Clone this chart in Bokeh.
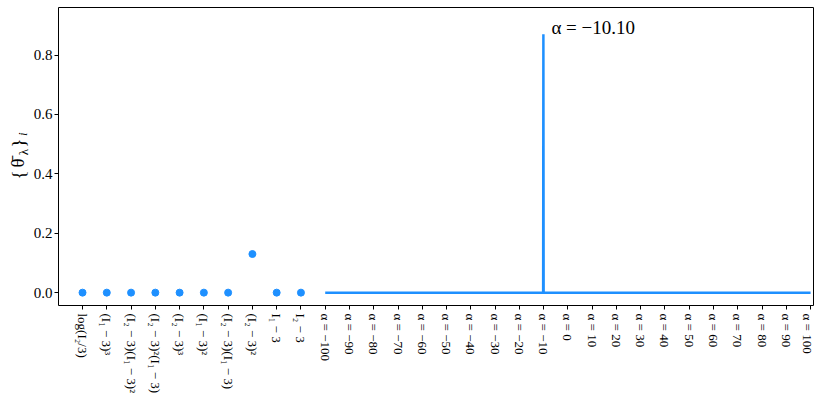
import math
from bokeh.plotting import figure
from bokeh.layouts import row
from bokeh.models import FixedTicker, PrintfTickFormatter, Range1d, Label
from bokeh.core.properties import value
from bokeh.embed import file_html
from bokeh.resources import INLINE

feature_labels = ["log(I₂/3)", "(I₁ − 3)³", "(I₂ − 3)(I₁ − 3)²", "(I₂ − 3)²(I₁ − 3)",
                  "(I₂ − 3)³", "(I₁ − 3)²", "(I₂ − 3)(I₁ − 3)", "(I₂ − 3)²",
                  "I₁ − 3", "I₂ − 3"]
feature_values = [0.0, 0.0, 0.0, 0.0, 0.0, 0.0, 0.0, 0.13, 0.0, 0.0]
alpha_ticks = [-100, -90, -80, -70, -60, -50, -40, -30, -20, -10, 0,
               10, 20, 30, 40, 50, 60, 70, 80, 90, 100]
alpha_values = [-100.0, -10.2, -10.1, -10.0, 100.0]
theta_values = [0.0, 0.0, 0.87, 0.0, 0.0]
peak_alpha = -10.10
peak_theta = 0.87
y_ticks = [0.0, 0.2, 0.4, 0.6, 0.8]

color = "#1E90FF"
serif = "Liberation Serif"

n_feat = len(feature_labels)
a0 = alpha_ticks[0]
step = alpha_ticks[1] - alpha_ticks[0]

def apos(a):
    return n_feat + (a - a0) / step

TOP, BOTTOM, H = 7, 88, 396
FRAME_H = H - TOP - BOTTOM
LEFT_W = 30

xr = Range1d(-0.99, 30.12)
yr = Range1d(-0.0433, 0.96)

# --- narrow left panel holding the composite y-axis label {θ̄_λ}_i ---
lf = figure(width=LEFT_W, height=H, output_backend="svg", toolbar_location=None,
            x_axis_type=None, y_axis_type=None, x_range=Range1d(0, LEFT_W), y_range=yr,
            min_border_left=0, min_border_right=0, min_border_top=TOP,
            min_border_bottom=BOTTOM)
lf.grid.visible = False
lf.outline_line_color = None
lf.background_fill_color = "white"
lf.border_fill_color = "white"

def up(px):
    return yr.start + px * (yr.end - yr.start) / FRAME_H

# (text, font px, style, centre x px, centre height above frame bottom px)
pieces = [("{", 19, "normal", 18, 132), ("θ̄", 19, "normal", 17, 144),
          ("λ", 13, "normal", 22.5, 155), ("}", 19, "normal", 18, 164),
          ("i", 13, "italic", 21.5, 173)]
for txt, fs, style, cx, u in pieces:
    lf.text(x=[cx], y=[up(u)], text=[txt], angle=math.pi / 2,
            text_font=value(serif), text_font_size=value(f"{fs}px"),
            text_font_style=value(style), text_color="black",
            text_baseline="middle", text_align="center")

# --- main plot ---
p = figure(width=814 - LEFT_W, height=H, output_backend="svg",
           toolbar_location=None, min_border_left=58 - LEFT_W, min_border_top=TOP,
           min_border_right=1, min_border_bottom=BOTTOM,
           x_range=xr, y_range=yr)
p.grid.visible = False
p.outline_line_color = "black"
p.outline_line_width = 1
p.background_fill_color = "white"
p.border_fill_color = "white"

p.scatter(list(range(n_feat)), feature_values, size=7, color=color)
p.line([apos(a) for a in alpha_values], theta_values, line_width=2.5, color=color)

lab = Label(x=apos(peak_alpha), y=peak_theta, text="α = −10.10", x_offset=8, y_offset=7,
            text_font=serif, text_font_size="19px", text_color="black",
            text_baseline="alphabetic")
p.add_layout(lab)

all_ticks = list(range(n_feat + len(alpha_ticks)))
overrides = {i: feature_labels[i] for i in range(n_feat)}
for j, a in enumerate(alpha_ticks):
    overrides[n_feat + j] = "α = " + (("−" + str(-a)) if a < 0 else str(a))

xa = p.xaxis[0]
xa.ticker = FixedTicker(ticks=all_ticks)
xa.major_label_overrides = overrides
xa.major_label_orientation = -math.pi / 2
xa.minor_tick_line_color = None
xa.major_tick_in = 0
xa.major_tick_out = 4
xa.major_label_text_font = serif
xa.major_label_text_font_size = "13px"
xa.major_label_standoff = 4

ya = p.yaxis[0]
ya.ticker = FixedTicker(ticks=y_ticks)
ya.formatter = PrintfTickFormatter(format="%.1f")
ya.minor_tick_line_color = None
ya.major_tick_in = 0
ya.major_tick_out = 4
ya.major_label_text_font = serif
ya.major_label_text_font_size = "15px"
ya.major_label_standoff = 2

for ax in (xa, ya):
    ax.axis_line_color = None
    ax.major_tick_line_color = "black"
    ax.major_label_text_color = "black"

layout = row(lf, p, spacing=0)
open("out.html", "w").write(file_html(layout, INLINE))
